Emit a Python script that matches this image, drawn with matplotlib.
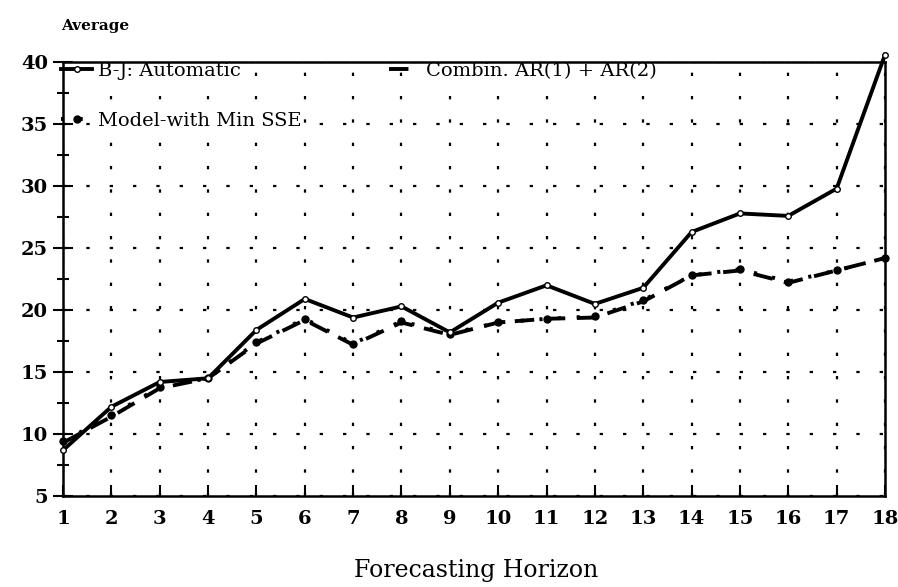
import matplotlib
matplotlib.use("Agg")
import matplotlib.pyplot as plt
from matplotlib.ticker import MultipleLocator

# forecasting horizons and average error per method
horizon = list(range(1, 19))
bj_auto = [8.7, 12.2, 14.2, 14.5, 18.4, 20.9, 19.4, 20.3, 18.2, 20.6,
           22.0, 20.5, 21.8, 26.3, 27.8, 27.6, 29.8, 40.6]
combin  = [9.3, 11.4, 13.7, 14.5, 17.3, 19.2, 17.2, 19.0, 18.0, 19.0,
           19.3, 19.4, 20.7, 22.8, 23.2, 22.2, 23.2, 24.2]
min_sse = [9.4, 11.5, 13.8, 14.5, 17.4, 19.3, 17.3, 19.1, 18.1, 19.0,
           19.3, 19.5, 20.8, 22.8, 23.3, 22.3, 23.2, 24.2]
legend_labels = ["B-J: Automatic", "Model-with Min SSE", "Combin. AR(1) + AR(2)"]

SERIF = "DejaVu Serif"

fig = plt.figure(figsize=(8.98, 5.87), dpi=100)
ax = fig.add_axes([0.0702, 0.155, 0.9153, 0.739])

l_bj, = ax.plot(horizon, bj_auto, color="black", lw=2.8, marker="o", ms=4,
                mfc="white", mec="black", mew=1, clip_on=False, zorder=4)
l_cb, = ax.plot(horizon, combin, color="black", lw=2.8, ls=(0, (5, 3)),
                clip_on=False, zorder=3)
l_ms, = ax.plot(horizon, min_sse, color="black", lw=2.8, ls=(0, (0.8, 4)),
                marker="o", ms=5, clip_on=False, zorder=3)

ax.set_xlim(1, 18)
ax.set_ylim(5, 40)
ax.set_xticks(horizon)
ax.yaxis.set_major_locator(MultipleLocator(5))
ax.yaxis.set_minor_locator(MultipleLocator(2.5))

ax.grid(True, which="major", color="black", ls=(0, (1.5, 9)), lw=1.6)
for sp in ax.spines.values():
    sp.set_linewidth(1.8)

ax.tick_params(axis="y", which="both", direction="inout", width=1.5, pad=4)
ax.tick_params(axis="y", which="major", length=14)
ax.tick_params(axis="y", which="minor", length=8)
ax.tick_params(axis="x", direction="in", length=8, width=1.5, pad=10)
for lab in ax.get_xticklabels() + ax.get_yticklabels():
    lab.set_fontfamily(SERIF)
    lab.set_fontweight("bold")
    lab.set_fontsize(14)

leg = ax.legend([l_bj, l_ms, l_cb], legend_labels, ncol=2, loc="upper left",
                bbox_to_anchor=(-0.012, 1.018), frameon=False, handlelength=1.6,
                handletextpad=0.3, columnspacing=4.5, labelspacing=1.65,
                borderaxespad=0, prop={"family": SERIF, "size": 14})
# keep the grid dots from running through the legend text, but stay under the spines
for t in leg.get_texts():
    t.set_bbox(dict(facecolor="white", edgecolor="none", pad=0.5))
leg.set_zorder(2.4)

fig.text(0.068, 0.955, "Average", family=SERIF, weight="bold", fontsize=11,
         ha="left", va="center")
fig.text(0.53, 0.028, "Forecasting Horizon", family=SERIF, fontsize=17,
         ha="center", va="center")

fig.savefig("out.png", dpi=100)
